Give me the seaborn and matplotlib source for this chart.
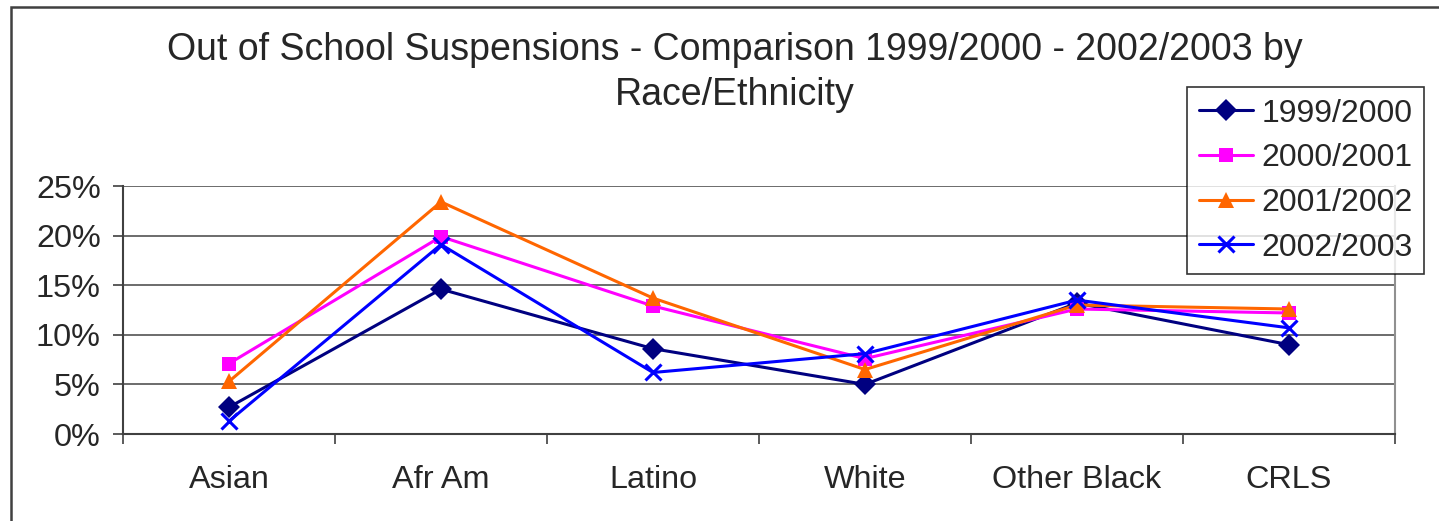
import pandas as pd
import matplotlib.pyplot as plt
import seaborn as sns
from matplotlib.patches import Rectangle
from matplotlib.ticker import FixedLocator, PercentFormatter

# Dados (percentual de suspensões)
grupos = ['Asian', 'Afr Am', 'Latino', 'White', 'Other Black', 'CRLS']
anos = ['1999/2000', '2000/2001', '2001/2002', '2002/2003']
v_1999 = [2.7, 14.6, 8.6, 5.0, 13.2, 9.0]
v_2000 = [7.1, 19.9, 12.9, 7.6, 12.6, 12.2]
v_2001 = [5.3, 23.4, 13.7, 6.5, 13.0, 12.6]
v_2002 = [1.3, 19.1, 6.2, 8.1, 13.5, 10.7]

cores = ['#000080', '#FF00FF', '#FF6600', '#0000FF']
marcadores = ['D', 's', '^', 'x']
tamanhos = [11, 10, 11, 11]

df = pd.DataFrame({
    'Grupo': grupos * 4,
    'Ano': [a for a in anos for _ in grupos],
    'Taxa': v_1999 + v_2000 + v_2001 + v_2002,
})

sns.set_style('white')
plt.rcParams['font.family'] = ['Liberation Sans', 'DejaVu Sans']

fig = plt.figure(figsize=(14.39, 5.21), dpi=100)
ax = fig.add_axes([123 / 1439, 1 - 434 / 521, (1395 - 123) / 1439, (434 - 186) / 521])

# uma linha por ano (marcadores cheios e "x" não podem ser misturados no seaborn)
for ano, cor, m, t in zip(anos, cores, marcadores, tamanhos):
    sub = df[df['Ano'] == ano]
    sns.lineplot(data=sub, x='Grupo', y='Taxa', color=cor, marker=m, sort=False,
                 linewidth=2.2, markersize=t,
                 markeredgewidth=2.2 if m == 'x' else 0, markeredgecolor=cor,
                 ax=ax, legend=False)

ax.set_xlim(-0.5, 5.5)
ax.set_ylim(0, 25)
ax.set_yticks([0, 5, 10, 15, 20, 25])
ax.yaxis.set_major_formatter(PercentFormatter(decimals=0))
ax.yaxis.grid(True, color='#606060', linewidth=1.3)
ax.set_axisbelow(True)
ax.set_xticks(range(len(grupos)))
ax.set_xticklabels(grupos)
ax.xaxis.set_minor_locator(FixedLocator([i - 0.5 for i in range(len(grupos) + 1)]))
ax.tick_params(axis='x', which='major', length=0, pad=22, labelsize=23.3)
ax.tick_params(axis='x', which='minor', length=7, width=1.2, color='#404040', direction='out', bottom=True)
ax.tick_params(axis='y', length=7, width=1.2, color='#404040', direction='out', left=True, pad=9, labelsize=23.3)
ax.set_xlabel('')
ax.set_ylabel('')
for s in ['left', 'bottom', 'right']:
    ax.spines[s].set_visible(True)
    ax.spines[s].set_color('#404040')
    ax.spines[s].set_linewidth(1.5)
ax.spines['right'].set_color('#909090')
ax.spines['top'].set_visible(False)

# Título (duas linhas, como no original)
fig.text(735 / 1439, 1 - 50 / 521,
         'Out of School Suspensions - Comparison 1999/2000 - 2002/2003 by',
         ha='center', va='center', fontsize=27)
fig.text(735 / 1439, 1 - 95 / 521, 'Race/Ethnicity',
         ha='center', va='center', fontsize=27)

# Legenda
handles = [plt.Line2D([], [], color=c, marker=m, linewidth=2.2, markersize=t,
                      markeredgewidth=2.2 if m == 'x' else 0, markeredgecolor=c)
           for c, m, t in zip(cores, marcadores, tamanhos)]
leg = fig.legend(handles, anos, loc='upper left', bbox_to_anchor=(1187 / 1439, 1 - 87 / 521),
                 fontsize=23, frameon=True, fancybox=False, edgecolor='black',
                 handlelength=1.72, handletextpad=0.25, labelspacing=0.46, borderpad=0.36,
                 borderaxespad=0)
leg.get_frame().set_linewidth(1.2)

# moldura do gráfico
fig.add_artist(Rectangle((11 / 1439, -0.2), 1.2, 1.2 - 7 / 521, transform=fig.transFigure,
                         fill=False, edgecolor='#404040', linewidth=1.8))

plt.savefig('out.png', dpi=100)
plt.close()
